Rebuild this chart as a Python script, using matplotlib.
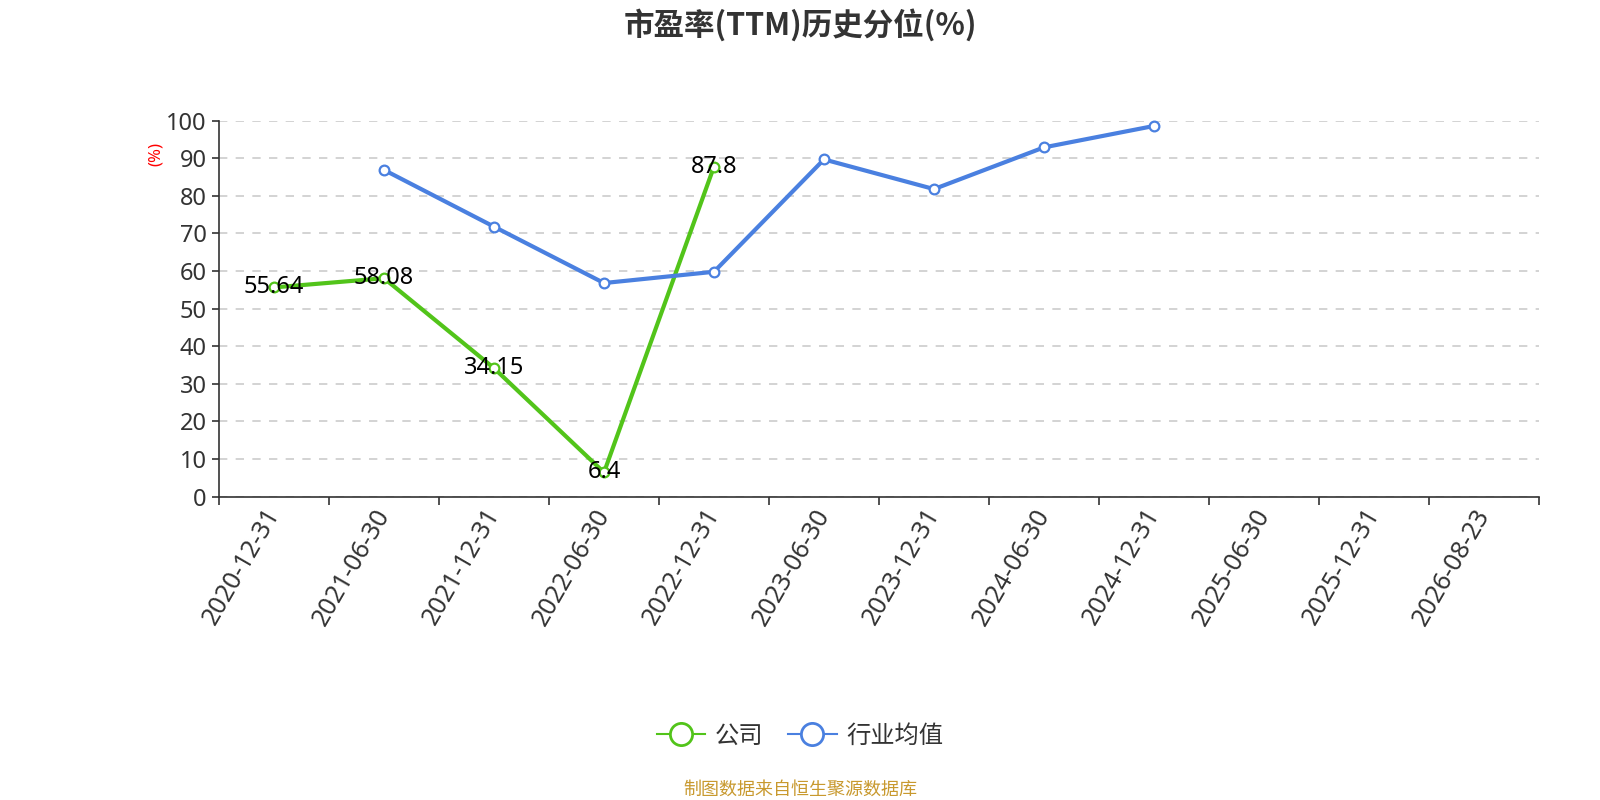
import matplotlib
matplotlib.use('Agg')
import matplotlib.pyplot as plt
from matplotlib.lines import Line2D
import numpy as np

plt.rcParams['font.family'] = ['Noto Sans', 'Noto Sans CJK SC', 'DejaVu Sans']

categories = ['2020-12-31', '2021-06-30', '2021-12-31', '2022-06-30', '2022-12-31',
              '2023-06-30', '2023-12-31', '2024-06-30', '2024-12-31', '2025-06-30',
              '2025-12-31', '2026-08-23']
company = [55.64, 58.08, 34.15, 6.4, 87.8, np.nan, np.nan, np.nan, np.nan, np.nan, np.nan, np.nan]
industry = [np.nan, 86.9, 71.8, 56.8, 59.8, 89.7, 81.8, 92.9, 98.6, np.nan, np.nan, np.nan]
yticks = [0, 10, 20, 30, 40, 50, 60, 70, 80, 90, 100]
series_names = ['公司', '行业均值']

title = '市盈率(TTM)历史分位(%)'
source = '制图数据来自恒生聚源数据库'

green = '#52c41a'
blue = '#4a80e0'
dark = '#333333'

fig = plt.figure(figsize=(16, 8), dpi=100)
ax = fig.add_axes([219 / 1600, 1 - 496.5 / 800, (1539 - 219) / 1600, (496.5 - 120.7) / 800])

x = np.arange(len(categories))
ax.plot(x, company, color=green, lw=3, marker='o', ms=7, mfc='white', mec=green, mew=1.6,
        zorder=3, clip_on=False)
ax.plot(x, industry, color=blue, lw=3, marker='o', ms=7, mfc='white', mec=blue, mew=1.6,
        zorder=3, clip_on=False)

for i, v in enumerate(company):
    if not np.isnan(v):
        ax.text(i, v, f'{v:g}', ha='center', va='center', fontsize=17, color='black', zorder=4)

ax.set_xlim(-0.5, len(categories) - 0.5)
ax.set_ylim(0, 100)
ax.set_yticks(yticks)
ax.set_yticklabels([str(t) for t in yticks], fontsize=17, color=dark)

ax.set_xticks(np.arange(-0.5, len(categories), 1))
ax.set_xticklabels([])
ax.set_xticks(x, minor=True)
ax.set_xticklabels(categories, minor=True, rotation=60, ha='right', va='center',
                   rotation_mode='anchor', fontsize=18, color=dark)
ax.tick_params(axis='x', which='major', length=6, width=1.2, color=dark)
ax.tick_params(axis='x', which='minor', length=0, pad=10)
ax.tick_params(axis='y', length=5, width=1.2, color=dark, pad=4)

ax.yaxis.grid(True, linestyle=(0, (5, 5)), color='#cccccc', lw=1.2)
ax.xaxis.grid(False)
ax.set_axisbelow(True)
for s in ['top', 'right']:
    ax.spines[s].set_visible(False)
for s in ['left', 'bottom']:
    ax.spines[s].set_color(dark)
    ax.spines[s].set_linewidth(1.2)

fig.text(0.5, 1 - 25 / 800, title, fontsize=22, fontweight='bold', color=dark,
         ha='center', va='center', family=['Noto Sans CJK SC', 'DejaVu Sans'])
fig.text(156 / 1600, 1 - 154 / 800, '(%)', rotation=90, color='red', fontsize=12,
         ha='center', va='center')

handles = [Line2D([0], [0], color=green, lw=1.5, marker='o', ms=16, mfc='white', mec=green, mew=2),
           Line2D([0], [0], color=blue, lw=1.5, marker='o', ms=16, mfc='white', mec=blue, mew=2)]
leg = fig.legend(handles, series_names, loc='center', bbox_to_anchor=(0.5, 1 - 737 / 800),
                 ncol=2, frameon=False, fontsize=17.5, handlelength=2.0, columnspacing=1.0,
                 handletextpad=0.4)
for t in leg.get_texts():
    t.set_color(dark)

fig.text(0.5, 1 - 790 / 800, source, fontsize=13, color='#c8992e', ha='center', va='center')

fig.savefig('out.png', dpi=100)
